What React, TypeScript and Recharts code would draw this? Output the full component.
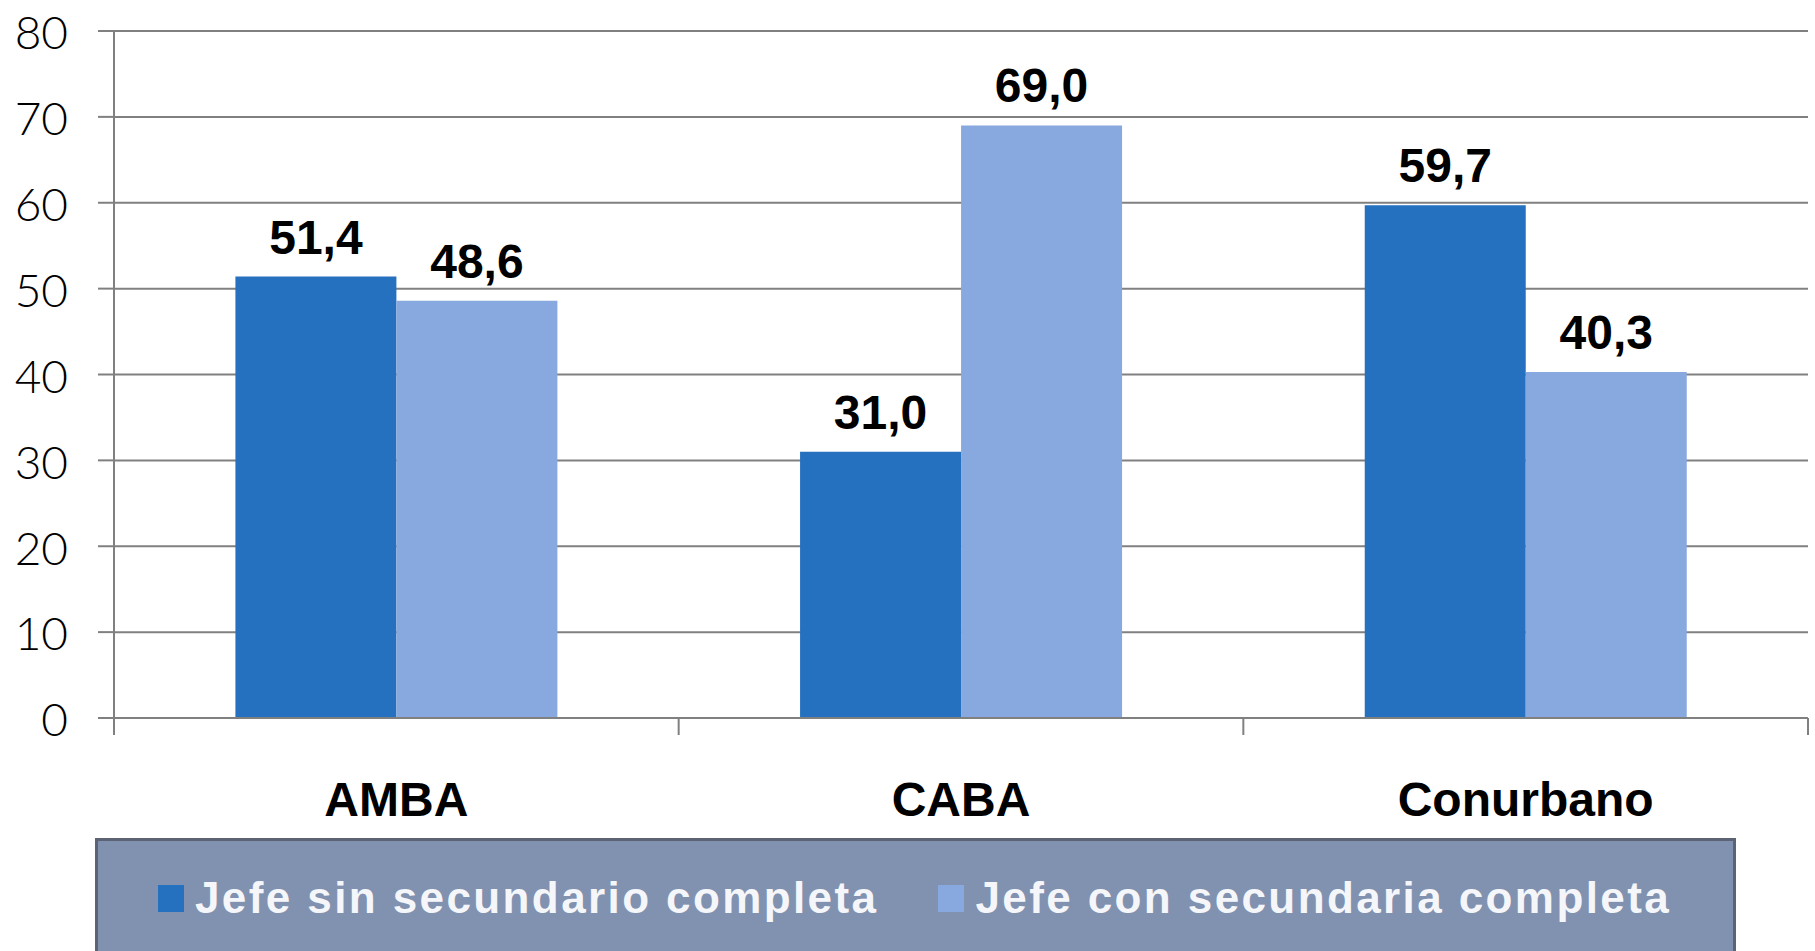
import { BarChart, Bar, XAxis, YAxis, CartesianGrid, LabelList } from 'recharts'

const categories = ['AMBA', 'CABA', 'Conurbano']
const sinSecundario = [51.4, 31.0, 59.7]
const conSecundaria = [48.6, 69.0, 40.3]
const yTicks = [0, 10, 20, 30, 40, 50, 60, 70, 80]

const seriesNames = ['Jefe sin secundario completa', 'Jefe con secundaria completa']
const DARK = '#2571c0'
const LIGHT = '#88a8e0'
const GRID = '#808080'

const data = categories.map((name, i) => ({
  name,
  sin: sinSecundario[i],
  con: conSecundaria[i],
}))

const fmt = (v: number) => v.toFixed(1).replace('.', ',')

// x ticks sit on category boundaries, not centres
// eslint-disable-next-line @typescript-eslint/no-explicit-any
function CategoryTick(props: any) {
  const { x, y, payload, index } = props
  const half = payload?.offset ?? 282
  const top = y - 17
  return (
    <g>
      <line x1={x - half} x2={x - half} y1={top} y2={top + 17} stroke={GRID} strokeWidth={2} />
      {index === categories.length - 1 && (
        <line x1={x + half} x2={x + half} y1={top} y2={top + 17} stroke={GRID} strokeWidth={2} />
      )}
      <text
        x={x}
        y={top + 98}
        textAnchor="middle"
        fontFamily="'Liberation Sans', Arial, sans-serif"
        fontWeight={700}
        fontSize={48}
        fill="#000"
      >
        {payload.value}
      </text>
    </g>
  )
}

function Legend() {
  return (
    <div
      style={{
        position: 'absolute',
        left: 95,
        top: 838,
        width: 1641,
        height: 120,
        boxSizing: 'border-box',
        background: '#8191b0',
        border: '3px solid #5b6374',
        display: 'flex',
        alignItems: 'flex-start',
        paddingTop: 32,
        fontFamily: "'Liberation Sans', Arial, sans-serif",
        fontWeight: 700,
        fontSize: 44,
        color: '#f4f6fa',
        letterSpacing: 2.4,
      }}
    >
      {seriesNames.map((n, i) => (
        <div key={n} style={{ display: 'flex', alignItems: 'center', marginLeft: i === 0 ? 60 : 60 }}>
          <span
            style={{
              display: 'inline-block',
              width: 26,
              height: 27,
              background: i === 0 ? DARK : LIGHT,
              marginRight: 11,
            }}
          />
          <span>{n}</span>
        </div>
      ))}
    </div>
  )
}

export default function App() {
  return (
    <div style={{ position: 'absolute', left: 0, top: 0, width: 1815, height: 951, background: '#fff', overflow: 'hidden' }}>
      <BarChart
        width={1815}
        height={951}
        data={data}
        margin={{ top: 31, right: 7, left: 0, bottom: 0 }}
        barCategoryGap="21.5%"
        barGap={0}
      >
        <CartesianGrid vertical={false} stroke={GRID} strokeWidth={2} />
        <XAxis
          dataKey="name"
          height={233}
          axisLine={{ stroke: GRID, strokeWidth: 2 }}
          tickLine={false}
          tickSize={17}
          tickMargin={0}
          tick={<CategoryTick />}
          interval={0}
        />
        <YAxis
          domain={[0, 80]}
          ticks={yTicks}
          width={114}
          tickSize={16}
          tickMargin={30}
          axisLine={{ stroke: GRID, strokeWidth: 2 }}
          tickLine={{ stroke: GRID, strokeWidth: 2 }}
          tick={{ fontFamily: 'Lato, sans-serif', fontWeight: 300, fontSize: 46, fill: '#000', dy: 2 }}
        />
        <Bar dataKey="sin" fill={DARK} isAnimationActive={false}>
          <LabelList
            dataKey="sin"
            position="top"
            offset={23}
            formatter={(v: number) => fmt(v)}
            style={{ fontFamily: "'Liberation Sans', Arial, sans-serif", fontWeight: 700, fontSize: 48, fill: '#000' }}
          />
        </Bar>
        <Bar dataKey="con" fill={LIGHT} isAnimationActive={false}>
          <LabelList
            dataKey="con"
            position="top"
            offset={23}
            formatter={(v: number) => fmt(v)}
            style={{ fontFamily: "'Liberation Sans', Arial, sans-serif", fontWeight: 700, fontSize: 48, fill: '#000' }}
          />
        </Bar>
      </BarChart>
      <Legend />
    </div>
  )
}
